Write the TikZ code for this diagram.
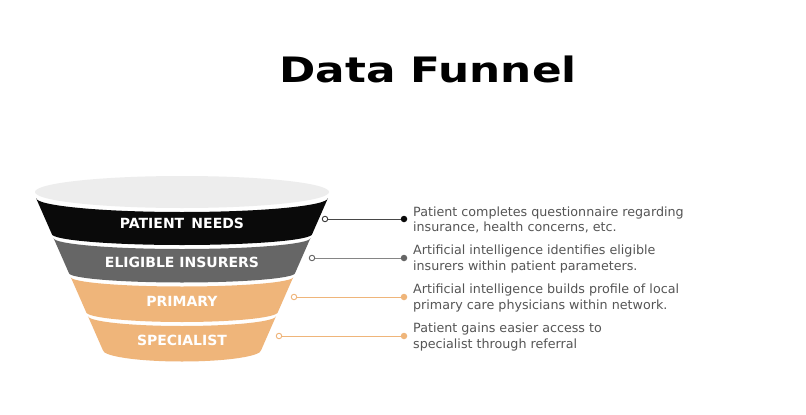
\documentclass[tikz,border=0pt]{standalone}
\usepackage{fontspec}
\usepackage{xcolor}
\usepackage{graphicx}
\setmainfont{DejaVu Sans}
\newfontfamily\titlefont{DejaVu Sans}
\newfontfamily\bandfont{DejaVu Sans}
\usetikzlibrary{positioning}

\definecolor{needsblack}{HTML}{0A0A0A}
\definecolor{insurgray}{HTML}{666666}
\definecolor{careorange}{HTML}{EFB57A}
\definecolor{rimgray}{HTML}{EDEDED}
\definecolor{descgray}{HTML}{555555}

\begin{document}
\begin{tikzpicture}[
    x=1pt, y=-1pt,
    every node/.style={font=\small},
    title/.style={
        anchor=base,
        inner sep=0pt,
        font=\titlefont\bfseries\fontsize{35}{35}\selectfont
    },
    bandlabel/.style={
        text=white,
        inner sep=0pt,
        font=\bandfont\bfseries\fontsize{14}{14}\selectfont
    },
    hollow/.style={
        circle,
        draw,
        fill=white,
        line width=0.9pt,
        inner sep=0pt,
        minimum size=5.5pt
    },
    dot/.style={
        circle,
        fill,
        inner sep=0pt,
        minimum size=6.5pt
    },
    link/.style={
        line width=1pt
    },
    desc/.style={
        anchor=west,
        align=left,
        inner sep=0pt,
        text=descgray,
        font=\fontsize{12.7}{15.5}\selectfont
    }
]

% Fond
\fill[white] (0,0) rectangle (806,415);
\useasboundingbox (0,0) rectangle (806,415);

% Titre
\node[title] (title) at (428,82) {\scalebox{1.25}[1]{Data Funnel}};

% Entonnoir
\fill[rimgray] (182,192) ellipse[x radius=147, y radius=16];
\fill[needsblack] (36,198) arc[start angle=180, end angle=0, x radius=146, y radius=14]
    -- (312.2,234) arc[start angle=0, end angle=180, x radius=130.2, y radius=11] -- cycle;
\fill[insurgray] (53.5,238) arc[start angle=180, end angle=0, x radius=128.5, y radius=11]
    -- (295.1,273) arc[start angle=0, end angle=180, x radius=113.1, y radius=9.5] -- cycle;
\fill[careorange] (70.7,277) arc[start angle=180, end angle=0, x radius=111.3, y radius=9.5]
    -- (277.9,312) arc[start angle=0, end angle=180, x radius=95.9, y radius=10] -- cycle;
\fill[careorange] (87.9,316) arc[start angle=180, end angle=0, x radius=94.1, y radius=10]
    -- (261.2,350) arc[start angle=0, end angle=180, x radius=79.2, y radius=11.5] -- cycle;

% Etiquettes
\node[bandlabel] (needs) at (182,223) {PATIENT\, NEEDS};
\node[bandlabel] (insurers) at (182,262) {ELIGIBLE INSURERS};
\node[bandlabel] (primary) at (182,301) {PRIMARY};
\node[bandlabel] (specialist) at (182,340) {SPECIALIST};

% Repères
\node[hollow, draw=needsblack!80] (o1) at (325,219) {};
\node[dot, fill=needsblack] (d1) at (404,219) {};
\node[hollow, draw=insurgray] (o2) at (312,258) {};
\node[dot, fill=insurgray] (d2) at (404,258) {};
\node[hollow, draw=careorange] (o3) at (294,297) {};
\node[dot, fill=careorange] (d3) at (404,297) {};
\node[hollow, draw=careorange] (o4) at (279,336) {};
\node[dot, fill=careorange] (d4) at (404,336) {};

% Traits
\draw[link, needsblack!75] (o1) -- (d1);
\draw[link, insurgray!80] (o2) -- (d2);
\draw[link, careorange] (o3) -- (d3);
\draw[link, careorange] (o4) -- (d4);

% Descriptions
\node[desc, right=5.5pt of d1, yshift=-1pt] (t1) {Patient completes questionnaire regarding\\insurance, health concerns, etc.};
\node[desc, right=5.5pt of d2, yshift=-1pt] (t2) {Artificial intelligence identifies eligible\\insurers within patient parameters.};
\node[desc, right=5.5pt of d3, yshift=-1pt] (t3) {Artificial intelligence builds profile of local\\primary care physicians within network.};
\node[desc, right=5.5pt of d4, yshift=-1pt] (t4) {Patient gains easier access to\\specialist through referral};

\end{tikzpicture}
\end{document}
